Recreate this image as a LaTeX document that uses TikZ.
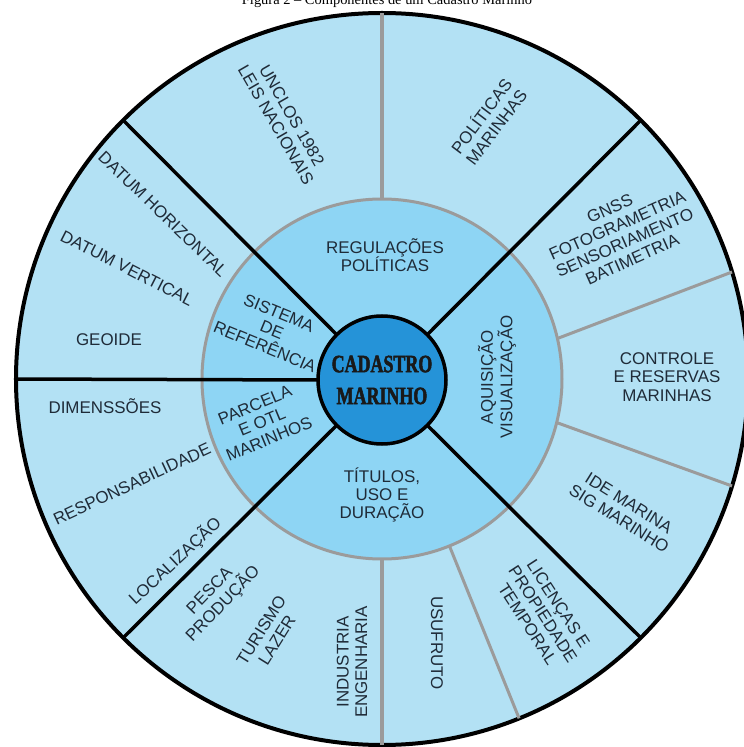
\documentclass[tikz,border=0pt]{standalone}
\usepackage{fontspec}
\setmainfont{Liberation Sans}
\newfontfamily\captionfont{Liberation Serif}
\newfontfamily\hubfont{Liberation Serif}[FakeStretch=0.72,FakeBold=2]
\definecolor{seablue}{HTML}{B3E1F4}
\definecolor{shelfblue}{HTML}{8ED5F4}
\definecolor{deepblue}{HTML}{2593D8}
\definecolor{ink}{HTML}{1F2B38}
\definecolor{rulegray}{HTML}{9B9B9B}

\begin{document}
\begin{tikzpicture}[x=1bp,y=1bp,
  every node/.style={text=ink,font=\fontsize{17}{18.5}\selectfont,align=center,inner sep=0pt},
  disc/.style={circle,inner sep=0pt,outer sep=0pt},
  divider/.style={line width=3.5bp,black},
  subdivider/.style={line width=3bp,rulegray}]

\clip (-382bp,-368bp) rectangle (362bp,379bp);
\fill[white] (-382bp,-368bp) rectangle (362bp,379bp);

\node (title) at (5bp,374bp)[anchor=base,text=black,font=\captionfont\fontsize{14.5}{15}\selectfont] {Figura 2 – Componentes de um Cadastro Marinho};

\node (rim) at (0bp,0bp)[disc,minimum size=732bp,fill=seablue,draw=black,line width=4bp] {};
\node (ring) at (0bp,0bp)[disc,minimum size=360bp,fill=shelfblue,draw=rulegray,line width=3bp] {};
\node (hub) at (0bp,-1bp)[disc,minimum size=128bp,fill=deepblue,draw=black,line width=3.5bp,text=black!90,font=\hubfont\bfseries\fontsize{25}{32}\selectfont] {CADASTRO\\MARINHO};

\draw [subdivider] (ring.90) -- (rim.90);
\draw [subdivider] (ring.270) -- (rim.270);
\draw [subdivider] (ring.13) -- (rim.17);
\draw [subdivider] (ring.346) -- (rim.343);
\draw [subdivider] (ring.292) -- (rim.292);
\foreach \a in {45,135,180,225,315}
  \draw [divider] (hub.\a) -- (rim.\a);

\node (regulacoes) at (3bp,124bp) {REGULAÇÕES\\POLÍTICAS};
\node (sistema) at (-110bp,49bp)[rotate=-22.5] {SISTEMA\\DE\\REFERÊNCIA};
\node (parcela) at (-120bp,-43bp)[rotate=22.5] {PARCELA\\E OTL\\MARINHOS};
\node (titulos) at (0bp,-116bp) {TÍTULOS,\\USO E\\DURAÇÃO};
\node (aquisicao) at (115bp,2bp)[rotate=90] {AQUISIÇÃO\\VISUALIZAÇÃO};

\node (unclos) at (-98bp,259bp)[rotate=-60] {UNCLOS 1982\\LEIS NACIONAIS};
\node (politicas) at (106bp,258bp)[rotate=53] {POLÍTICAS\\MARINHAS};
\node (gnss) at (239bp,145bp)[rotate=24] {GNSS\\FOTOGRAMETRIA\\SENSORIAMENTO\\BATIMETRIA};
\node (controle) at (285bp,2bp) {CONTROLE\\E RESERVAS\\MARINHAS};
\node (ide) at (242bp,-132bp)[rotate=-32] {IDE MARINA\\SIG MARINHO};
\node (licencas) at (161bp,-235bp)[rotate=-57] {LICENÇAS E\\PROPIEDADE\\TEMPORAL};
\node (usufruto) at (55bp,-264bp)[rotate=-90] {USUFRUTO};
\node (industria) at (-30bp,-283bp)[rotate=90] {INDUSTRIA\\ENGENHARIA};
\node (turismo) at (-113bp,-256bp)[rotate=58] {TURISMO\\LAZER};
\node (pesca) at (-165bp,-219bp)[rotate=46] {PESCA\\PRODUÇÃO};
\node (localizacao) at (-207bp,-182bp)[rotate=43] {LOCALIZAÇÃO};
\node (responsabilidade) at (-250bp,-105bp)[rotate=25] {RESPONSABILIDADE};
\node (dimenssoes) at (-277bp,-27bp) {DIMENSSÕES};
\node (geoide) at (-273bp,39bp) {GEOIDE};
\node (datumv) at (-255bp,111bp)[rotate=-27] {DATUM VERTICAL};
\node (datumh) at (-219bp,165bp)[rotate=-44] {DATUM HORIZONTAL};
\end{tikzpicture}
\end{document}
